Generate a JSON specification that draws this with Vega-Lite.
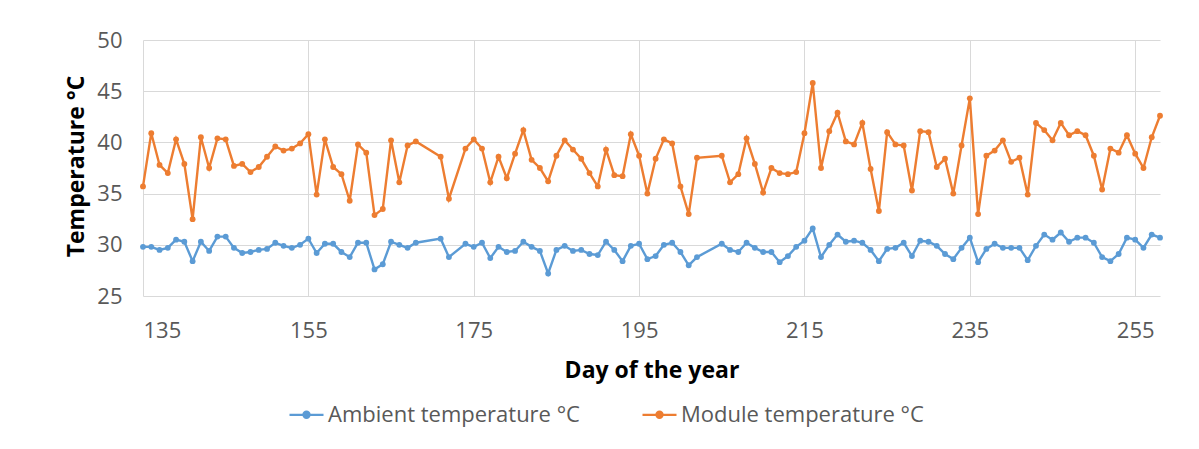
{
  "$schema": "https://vega.github.io/schema/vega-lite/v6.json",
  "autosize": {"type": "none"},
  "width": 1017,
  "height": 256,
  "padding": {"left": 143, "top": 40, "right": 39, "bottom": 153},
  "background": "white",
  "config": {
    "view": {"stroke": null},
    "font": "Open Sans"
  },
  "data": {"values": [
    {"d":135,"s":"Ambient temperature °C","t":29.8},{"d":136,"s":"Ambient temperature °C","t":29.8},{"d":137,"s":"Ambient temperature °C","t":29.5},{"d":138,"s":"Ambient temperature °C","t":29.7},{"d":139,"s":"Ambient temperature °C","t":30.5},
    {"d":140,"s":"Ambient temperature °C","t":30.3},{"d":141,"s":"Ambient temperature °C","t":28.4},{"d":142,"s":"Ambient temperature °C","t":30.3},{"d":143,"s":"Ambient temperature °C","t":29.4},{"d":144,"s":"Ambient temperature °C","t":30.8},
    {"d":145,"s":"Ambient temperature °C","t":30.8},{"d":146,"s":"Ambient temperature °C","t":29.7},{"d":147,"s":"Ambient temperature °C","t":29.2},{"d":148,"s":"Ambient temperature °C","t":29.3},{"d":149,"s":"Ambient temperature °C","t":29.5},
    {"d":150,"s":"Ambient temperature °C","t":29.6},{"d":151,"s":"Ambient temperature °C","t":30.2},{"d":152,"s":"Ambient temperature °C","t":29.9},{"d":153,"s":"Ambient temperature °C","t":29.7},{"d":154,"s":"Ambient temperature °C","t":30.0},
    {"d":155,"s":"Ambient temperature °C","t":30.6},{"d":156,"s":"Ambient temperature °C","t":29.2},{"d":157,"s":"Ambient temperature °C","t":30.1},{"d":158,"s":"Ambient temperature °C","t":30.1},{"d":159,"s":"Ambient temperature °C","t":29.3},
    {"d":160,"s":"Ambient temperature °C","t":28.8},{"d":161,"s":"Ambient temperature °C","t":30.2},{"d":162,"s":"Ambient temperature °C","t":30.2},{"d":163,"s":"Ambient temperature °C","t":27.6},{"d":164,"s":"Ambient temperature °C","t":28.1},
    {"d":165,"s":"Ambient temperature °C","t":30.3},{"d":166,"s":"Ambient temperature °C","t":30.0},{"d":167,"s":"Ambient temperature °C","t":29.7},{"d":168,"s":"Ambient temperature °C","t":30.2},{"d":171,"s":"Ambient temperature °C","t":30.6},
    {"d":172,"s":"Ambient temperature °C","t":28.8},{"d":174,"s":"Ambient temperature °C","t":30.1},{"d":175,"s":"Ambient temperature °C","t":29.8},{"d":176,"s":"Ambient temperature °C","t":30.2},{"d":177,"s":"Ambient temperature °C","t":28.7},
    {"d":178,"s":"Ambient temperature °C","t":29.8},{"d":179,"s":"Ambient temperature °C","t":29.3},{"d":180,"s":"Ambient temperature °C","t":29.4},{"d":181,"s":"Ambient temperature °C","t":30.3},{"d":182,"s":"Ambient temperature °C","t":29.8},
    {"d":183,"s":"Ambient temperature °C","t":29.4},{"d":184,"s":"Ambient temperature °C","t":27.2},{"d":185,"s":"Ambient temperature °C","t":29.5},{"d":186,"s":"Ambient temperature °C","t":29.9},{"d":187,"s":"Ambient temperature °C","t":29.4},
    {"d":188,"s":"Ambient temperature °C","t":29.5},{"d":189,"s":"Ambient temperature °C","t":29.1},{"d":190,"s":"Ambient temperature °C","t":29.0},{"d":191,"s":"Ambient temperature °C","t":30.3},{"d":192,"s":"Ambient temperature °C","t":29.5},
    {"d":193,"s":"Ambient temperature °C","t":28.4},{"d":194,"s":"Ambient temperature °C","t":29.9},{"d":195,"s":"Ambient temperature °C","t":30.1},{"d":196,"s":"Ambient temperature °C","t":28.6},{"d":197,"s":"Ambient temperature °C","t":28.9},
    {"d":198,"s":"Ambient temperature °C","t":30.0},{"d":199,"s":"Ambient temperature °C","t":30.2},{"d":200,"s":"Ambient temperature °C","t":29.3},{"d":201,"s":"Ambient temperature °C","t":28.0},{"d":202,"s":"Ambient temperature °C","t":28.8},
    {"d":205,"s":"Ambient temperature °C","t":30.1},{"d":206,"s":"Ambient temperature °C","t":29.5},{"d":207,"s":"Ambient temperature °C","t":29.3},{"d":208,"s":"Ambient temperature °C","t":30.2},{"d":209,"s":"Ambient temperature °C","t":29.7},
    {"d":210,"s":"Ambient temperature °C","t":29.3},{"d":211,"s":"Ambient temperature °C","t":29.3},{"d":212,"s":"Ambient temperature °C","t":28.3},{"d":213,"s":"Ambient temperature °C","t":28.9},{"d":214,"s":"Ambient temperature °C","t":29.8},
    {"d":215,"s":"Ambient temperature °C","t":30.4},{"d":216,"s":"Ambient temperature °C","t":31.6},{"d":217,"s":"Ambient temperature °C","t":28.8},{"d":218,"s":"Ambient temperature °C","t":30.0},{"d":219,"s":"Ambient temperature °C","t":31.0},
    {"d":220,"s":"Ambient temperature °C","t":30.3},{"d":221,"s":"Ambient temperature °C","t":30.4},{"d":222,"s":"Ambient temperature °C","t":30.2},{"d":223,"s":"Ambient temperature °C","t":29.5},{"d":224,"s":"Ambient temperature °C","t":28.4},
    {"d":225,"s":"Ambient temperature °C","t":29.6},{"d":226,"s":"Ambient temperature °C","t":29.7},{"d":227,"s":"Ambient temperature °C","t":30.2},{"d":228,"s":"Ambient temperature °C","t":28.9},{"d":229,"s":"Ambient temperature °C","t":30.4},
    {"d":230,"s":"Ambient temperature °C","t":30.3},{"d":231,"s":"Ambient temperature °C","t":29.9},{"d":232,"s":"Ambient temperature °C","t":29.1},{"d":233,"s":"Ambient temperature °C","t":28.6},{"d":234,"s":"Ambient temperature °C","t":29.7},
    {"d":235,"s":"Ambient temperature °C","t":30.7},{"d":236,"s":"Ambient temperature °C","t":28.3},{"d":237,"s":"Ambient temperature °C","t":29.6},{"d":238,"s":"Ambient temperature °C","t":30.1},{"d":239,"s":"Ambient temperature °C","t":29.7},
    {"d":240,"s":"Ambient temperature °C","t":29.7},{"d":241,"s":"Ambient temperature °C","t":29.7},{"d":242,"s":"Ambient temperature °C","t":28.5},{"d":243,"s":"Ambient temperature °C","t":29.9},{"d":244,"s":"Ambient temperature °C","t":31.0},
    {"d":245,"s":"Ambient temperature °C","t":30.5},{"d":246,"s":"Ambient temperature °C","t":31.2},{"d":247,"s":"Ambient temperature °C","t":30.3},{"d":248,"s":"Ambient temperature °C","t":30.7},{"d":249,"s":"Ambient temperature °C","t":30.7},
    {"d":250,"s":"Ambient temperature °C","t":30.2},{"d":251,"s":"Ambient temperature °C","t":28.8},{"d":252,"s":"Ambient temperature °C","t":28.4},{"d":253,"s":"Ambient temperature °C","t":29.1},{"d":254,"s":"Ambient temperature °C","t":30.7},
    {"d":255,"s":"Ambient temperature °C","t":30.5},{"d":256,"s":"Ambient temperature °C","t":29.7},{"d":257,"s":"Ambient temperature °C","t":31.0},{"d":258,"s":"Ambient temperature °C","t":30.7},

    {"d":135,"s":"Module temperature °C","t":35.7},{"d":136,"s":"Module temperature °C","t":40.9},{"d":137,"s":"Module temperature °C","t":37.8},{"d":138,"s":"Module temperature °C","t":37.0},{"d":139,"s":"Module temperature °C","t":40.3},
    {"d":140,"s":"Module temperature °C","t":37.9},{"d":141,"s":"Module temperature °C","t":32.5},{"d":142,"s":"Module temperature °C","t":40.5},{"d":143,"s":"Module temperature °C","t":37.5},{"d":144,"s":"Module temperature °C","t":40.4},
    {"d":145,"s":"Module temperature °C","t":40.3},{"d":146,"s":"Module temperature °C","t":37.7},{"d":147,"s":"Module temperature °C","t":37.9},{"d":148,"s":"Module temperature °C","t":37.1},{"d":149,"s":"Module temperature °C","t":37.6},
    {"d":150,"s":"Module temperature °C","t":38.6},{"d":151,"s":"Module temperature °C","t":39.6},{"d":152,"s":"Module temperature °C","t":39.2},{"d":153,"s":"Module temperature °C","t":39.4},{"d":154,"s":"Module temperature °C","t":39.9},
    {"d":155,"s":"Module temperature °C","t":40.8},{"d":156,"s":"Module temperature °C","t":34.9},{"d":157,"s":"Module temperature °C","t":40.3},{"d":158,"s":"Module temperature °C","t":37.6},{"d":159,"s":"Module temperature °C","t":36.9},
    {"d":160,"s":"Module temperature °C","t":34.3},{"d":161,"s":"Module temperature °C","t":39.8},{"d":162,"s":"Module temperature °C","t":39.0},{"d":163,"s":"Module temperature °C","t":32.9},{"d":164,"s":"Module temperature °C","t":33.5},
    {"d":165,"s":"Module temperature °C","t":40.2},{"d":166,"s":"Module temperature °C","t":36.1},{"d":167,"s":"Module temperature °C","t":39.7},{"d":168,"s":"Module temperature °C","t":40.1},{"d":171,"s":"Module temperature °C","t":38.6},
    {"d":172,"s":"Module temperature °C","t":34.5},{"d":174,"s":"Module temperature °C","t":39.4},{"d":175,"s":"Module temperature °C","t":40.3},{"d":176,"s":"Module temperature °C","t":39.4},{"d":177,"s":"Module temperature °C","t":36.1},
    {"d":178,"s":"Module temperature °C","t":38.6},{"d":179,"s":"Module temperature °C","t":36.5},{"d":180,"s":"Module temperature °C","t":38.9},{"d":181,"s":"Module temperature °C","t":41.2},{"d":182,"s":"Module temperature °C","t":38.3},
    {"d":183,"s":"Module temperature °C","t":37.5},{"d":184,"s":"Module temperature °C","t":36.2},{"d":185,"s":"Module temperature °C","t":38.7},{"d":186,"s":"Module temperature °C","t":40.2},{"d":187,"s":"Module temperature °C","t":39.3},
    {"d":188,"s":"Module temperature °C","t":38.4},{"d":189,"s":"Module temperature °C","t":37.0},{"d":190,"s":"Module temperature °C","t":35.7},{"d":191,"s":"Module temperature °C","t":39.3},{"d":192,"s":"Module temperature °C","t":36.8},
    {"d":193,"s":"Module temperature °C","t":36.7},{"d":194,"s":"Module temperature °C","t":40.8},{"d":195,"s":"Module temperature °C","t":38.7},{"d":196,"s":"Module temperature °C","t":35.0},{"d":197,"s":"Module temperature °C","t":38.4},
    {"d":198,"s":"Module temperature °C","t":40.3},{"d":199,"s":"Module temperature °C","t":39.9},{"d":200,"s":"Module temperature °C","t":35.7},{"d":201,"s":"Module temperature °C","t":33.0},{"d":202,"s":"Module temperature °C","t":38.5},
    {"d":205,"s":"Module temperature °C","t":38.7},{"d":206,"s":"Module temperature °C","t":36.1},{"d":207,"s":"Module temperature °C","t":36.9},{"d":208,"s":"Module temperature °C","t":40.4},{"d":209,"s":"Module temperature °C","t":37.9},
    {"d":210,"s":"Module temperature °C","t":35.1},{"d":211,"s":"Module temperature °C","t":37.5},{"d":212,"s":"Module temperature °C","t":37.0},{"d":213,"s":"Module temperature °C","t":36.9},{"d":214,"s":"Module temperature °C","t":37.1},
    {"d":215,"s":"Module temperature °C","t":40.9},{"d":216,"s":"Module temperature °C","t":45.8},{"d":217,"s":"Module temperature °C","t":37.5},{"d":218,"s":"Module temperature °C","t":41.1},{"d":219,"s":"Module temperature °C","t":42.9},
    {"d":220,"s":"Module temperature °C","t":40.1},{"d":221,"s":"Module temperature °C","t":39.8},{"d":222,"s":"Module temperature °C","t":41.9},{"d":223,"s":"Module temperature °C","t":37.4},{"d":224,"s":"Module temperature °C","t":33.3},
    {"d":225,"s":"Module temperature °C","t":41.0},{"d":226,"s":"Module temperature °C","t":39.8},{"d":227,"s":"Module temperature °C","t":39.7},{"d":228,"s":"Module temperature °C","t":35.3},{"d":229,"s":"Module temperature °C","t":41.1},
    {"d":230,"s":"Module temperature °C","t":41.0},{"d":231,"s":"Module temperature °C","t":37.6},{"d":232,"s":"Module temperature °C","t":38.4},{"d":233,"s":"Module temperature °C","t":35.0},{"d":234,"s":"Module temperature °C","t":39.7},
    {"d":235,"s":"Module temperature °C","t":44.3},{"d":236,"s":"Module temperature °C","t":33.0},{"d":237,"s":"Module temperature °C","t":38.7},{"d":238,"s":"Module temperature °C","t":39.2},{"d":239,"s":"Module temperature °C","t":40.2},
    {"d":240,"s":"Module temperature °C","t":38.1},{"d":241,"s":"Module temperature °C","t":38.5},{"d":242,"s":"Module temperature °C","t":34.9},{"d":243,"s":"Module temperature °C","t":41.9},{"d":244,"s":"Module temperature °C","t":41.2},
    {"d":245,"s":"Module temperature °C","t":40.2},{"d":246,"s":"Module temperature °C","t":41.9},{"d":247,"s":"Module temperature °C","t":40.7},{"d":248,"s":"Module temperature °C","t":41.1},{"d":249,"s":"Module temperature °C","t":40.7},
    {"d":250,"s":"Module temperature °C","t":38.7},{"d":251,"s":"Module temperature °C","t":35.4},{"d":252,"s":"Module temperature °C","t":39.4},{"d":253,"s":"Module temperature °C","t":39.0},{"d":254,"s":"Module temperature °C","t":40.7},
    {"d":255,"s":"Module temperature °C","t":38.9},{"d":256,"s":"Module temperature °C","t":37.5},{"d":257,"s":"Module temperature °C","t":40.5},{"d":258,"s":"Module temperature °C","t":42.6}
  ]},
  "encoding": {
    "x": {
      "field": "d", "type": "quantitative",
      "scale": {"domain": [135, 258], "nice": false, "zero": false},
      "axis": {
        "title": "Day of the year",
        "values": [135, 155, 175, 195, 215, 235, 255],
        "format": "d",
        "domain": false, "ticks": false, "tickSize": 0,
        "grid": true, "gridColor": "#D9D9D9", "gridWidth": 1,
        "labelFont": "Open Sans", "labelFontSize": 22, "labelColor": "#595959",
        "labelBaseline": "alphabetic", "labelPadding": 41,
        "titleFont": "Open Sans", "titleFontSize": 23, "titleFontWeight": "bold", "titleColor": "#000000",
        "titleBaseline": "alphabetic", "titleY": 81
      }
    },
    "y": {
      "field": "t", "type": "quantitative",
      "scale": {"domain": [25, 50], "nice": false, "zero": false},
      "axis": {
        "title": "Temperature °C",
        "values": [25, 30, 35, 40, 45, 50],
        "domain": false, "ticks": false, "tickSize": 0,
        "grid": true, "gridColor": "#D9D9D9", "gridWidth": 1,
        "labelFont": "Open Sans", "labelFontSize": 22, "labelColor": "#595959",
        "labelPadding": 21,
        "titleFont": "Open Sans", "titleFontSize": 23, "titleFontWeight": "bold", "titleColor": "#000000",
        "titleAngle": 270, "titleBaseline": "alphabetic", "titleAlign": "center",
        "titleX": -60, "titleY": 126
      }
    },
    "color": {
      "field": "s", "type": "nominal",
      "scale": {"domain": ["Ambient temperature °C", "Module temperature °C"], "range": ["#5B9BD5", "#ED7D31"]},
      "legend": {
        "title": null,
        "orient": "none",
        "direction": "horizontal",
        "legendX": 145,
        "legendY": 356,
        "labelFont": "Open Sans",
        "labelFontSize": 22,
        "labelColor": "#595959",
        "labelLimit": 600,
        "labelOffset": 3,
        "columnPadding": 58,
        "symbolType": "M-1,0L1,0M-0.18,0A0.18,0.18 0 1,0 0.18,0A0.18,0.18 0 1,0 -0.18,0",
        "symbolSize": 1156,
        "symbolStrokeWidth": 2.25,
        "encode": {
          "symbols": {"update": {
            "fill": {"scale": "color", "field": "value"},
            "stroke": {"scale": "color", "field": "value"},
            "opacity": {"value": 1}
          }}
        }
      }
    }
  },
  "layer": [
    {"mark": {"type": "line", "strokeWidth": 2.4}},
    {"mark": {"type": "point", "filled": true, "size": 34, "opacity": 1}}
  ]
}
